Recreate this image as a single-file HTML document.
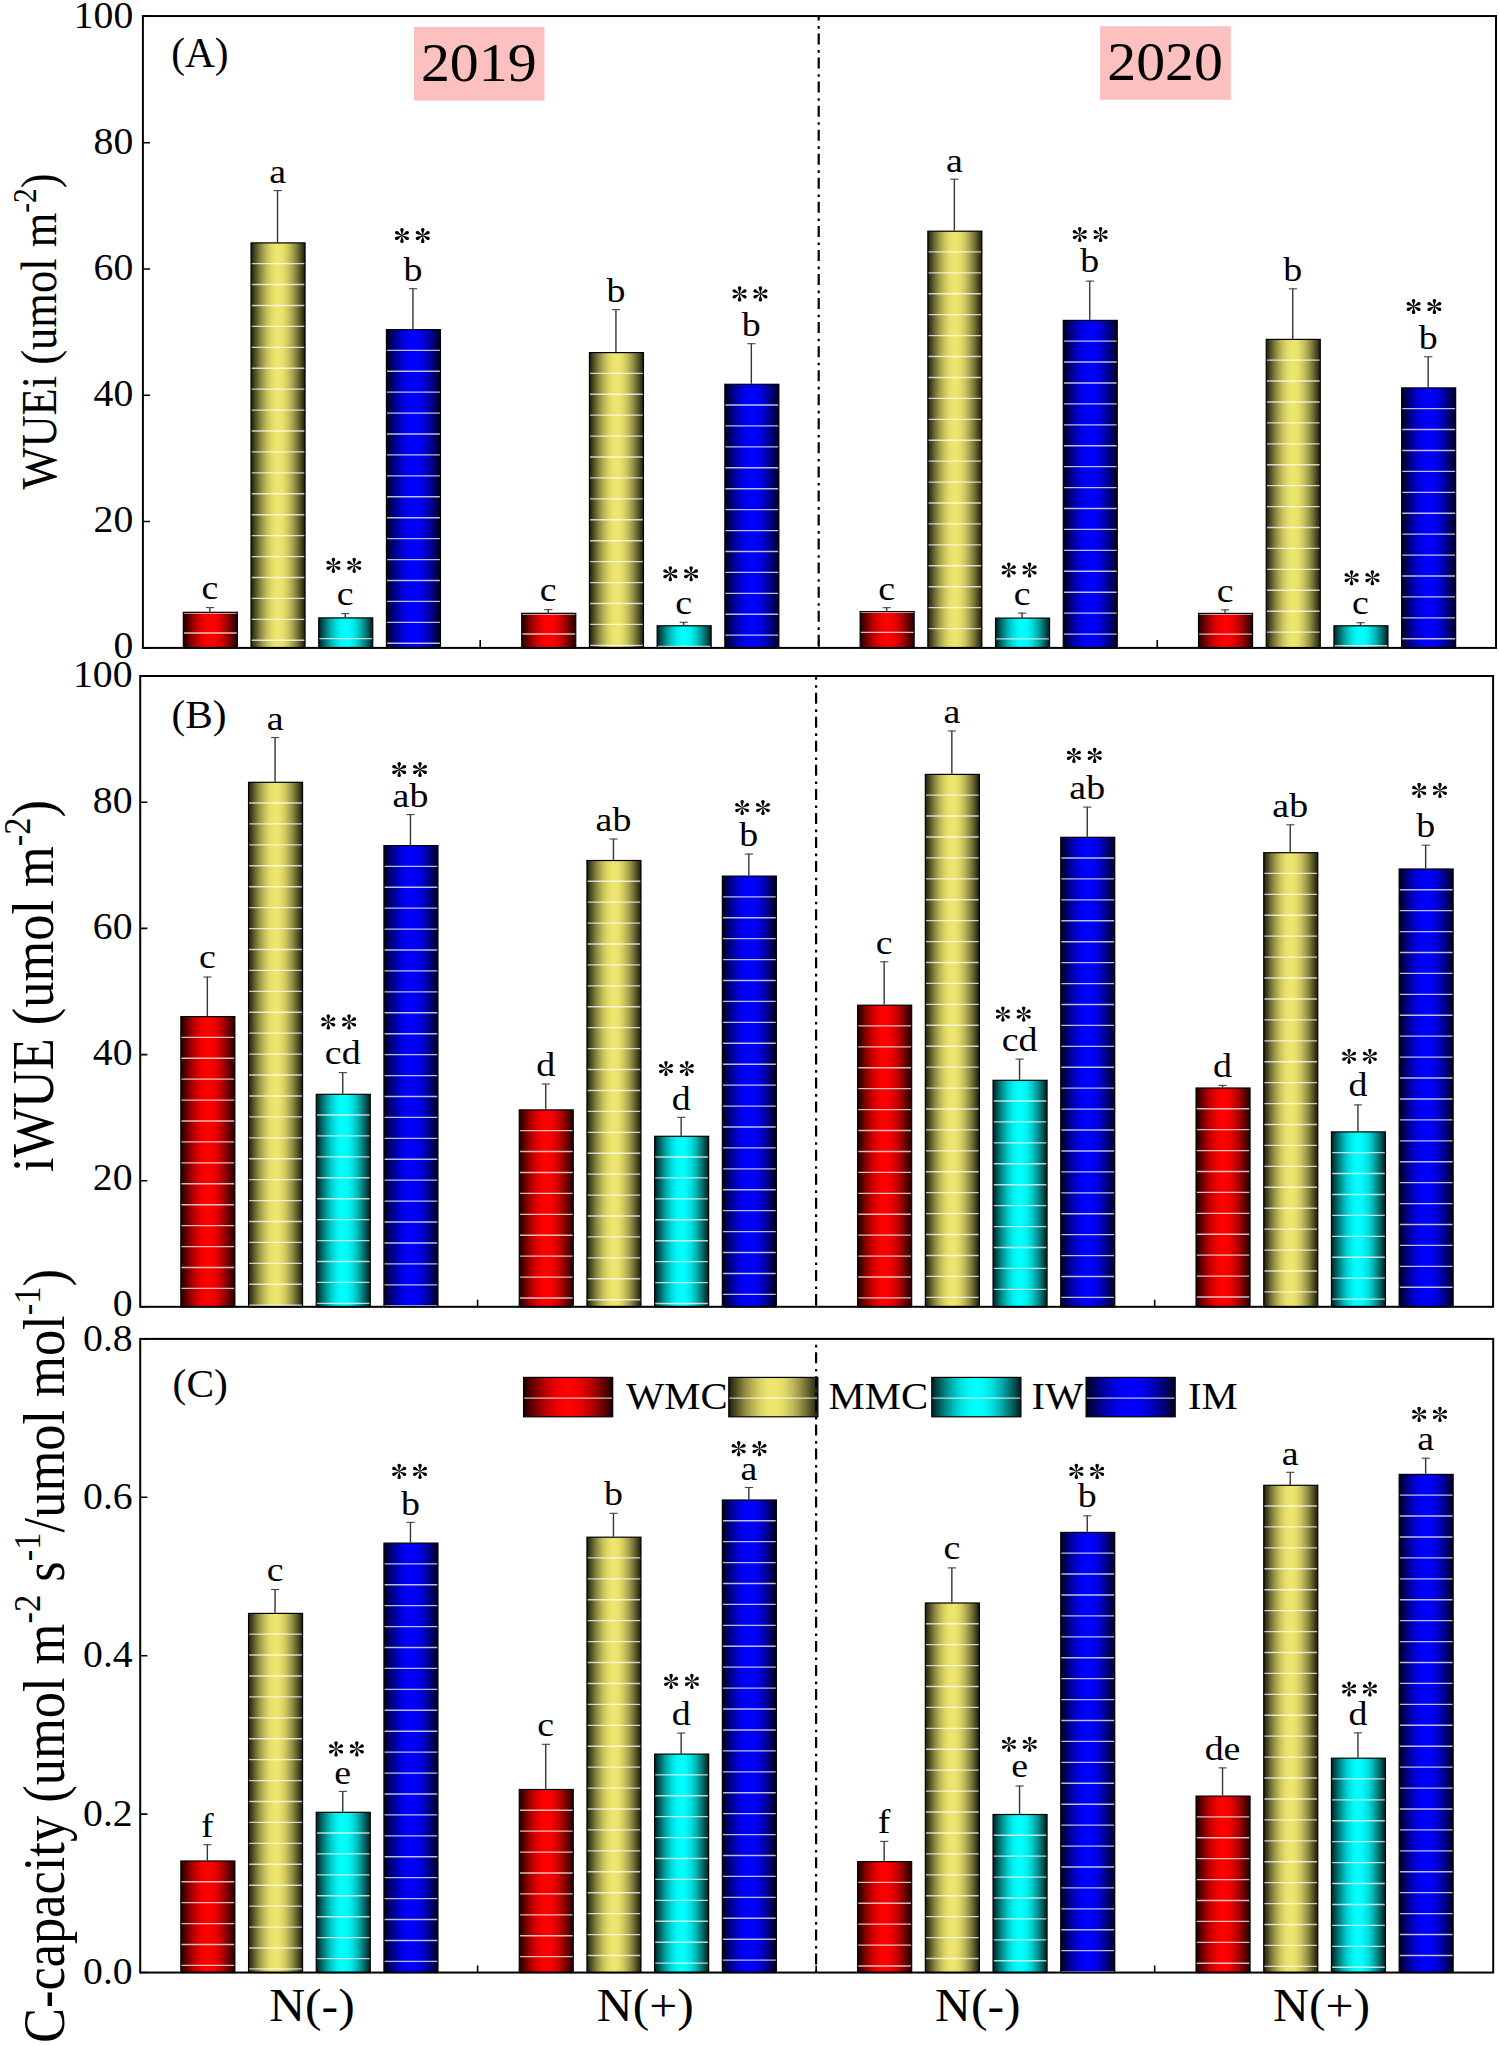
<!DOCTYPE html>
<html><head><meta charset="utf-8"><title>Figure</title>
<style>
html,body{margin:0;padding:0;background:#fff;}
body{width:1499px;height:2046px;overflow:hidden;font-family:"Liberation Serif",serif;}
svg{display:block;}
</style></head><body>
<svg width="1499" height="2046" viewBox="0 0 1499 2046" font-family="'Liberation Serif', serif" fill="#000">
<defs>
<linearGradient id="gr" x1="0" x2="1" y1="0" y2="0"><stop offset="0.0000" stop-color="#1f0000"/><stop offset="0.0625" stop-color="#4a0000"/><stop offset="0.1250" stop-color="#740000"/><stop offset="0.1875" stop-color="#9b0000"/><stop offset="0.2500" stop-color="#bd0000"/><stop offset="0.3125" stop-color="#d90000"/><stop offset="0.3750" stop-color="#ee0000"/><stop offset="0.4375" stop-color="#fb0000"/><stop offset="0.5000" stop-color="#ff0000"/><stop offset="0.5625" stop-color="#fb0000"/><stop offset="0.6250" stop-color="#ee0000"/><stop offset="0.6875" stop-color="#d90000"/><stop offset="0.7500" stop-color="#bd0000"/><stop offset="0.8125" stop-color="#9b0000"/><stop offset="0.8750" stop-color="#740000"/><stop offset="0.9375" stop-color="#4a0000"/><stop offset="1.0000" stop-color="#1f0000"/></linearGradient>
<linearGradient id="gy" x1="0" x2="1" y1="0" y2="0"><stop offset="0.0000" stop-color="#1d1c0d"/><stop offset="0.0625" stop-color="#454320"/><stop offset="0.1250" stop-color="#6d6a32"/><stop offset="0.1875" stop-color="#918d43"/><stop offset="0.2500" stop-color="#b1ab52"/><stop offset="0.3125" stop-color="#cbc55e"/><stop offset="0.3750" stop-color="#ded867"/><stop offset="0.4375" stop-color="#eae36c"/><stop offset="0.5000" stop-color="#eee76e"/><stop offset="0.5625" stop-color="#eae36c"/><stop offset="0.6250" stop-color="#ded867"/><stop offset="0.6875" stop-color="#cbc55e"/><stop offset="0.7500" stop-color="#b1ab52"/><stop offset="0.8125" stop-color="#918d43"/><stop offset="0.8750" stop-color="#6d6a32"/><stop offset="0.9375" stop-color="#454320"/><stop offset="1.0000" stop-color="#1d1c0d"/></linearGradient>
<linearGradient id="gc" x1="0" x2="1" y1="0" y2="0"><stop offset="0.0000" stop-color="#001f1f"/><stop offset="0.0625" stop-color="#004a4a"/><stop offset="0.1250" stop-color="#007474"/><stop offset="0.1875" stop-color="#009b9b"/><stop offset="0.2500" stop-color="#00bdbd"/><stop offset="0.3125" stop-color="#00d9d9"/><stop offset="0.3750" stop-color="#00eeee"/><stop offset="0.4375" stop-color="#00fbfb"/><stop offset="0.5000" stop-color="#00ffff"/><stop offset="0.5625" stop-color="#00fbfb"/><stop offset="0.6250" stop-color="#00eeee"/><stop offset="0.6875" stop-color="#00d9d9"/><stop offset="0.7500" stop-color="#00bdbd"/><stop offset="0.8125" stop-color="#009b9b"/><stop offset="0.8750" stop-color="#007474"/><stop offset="0.9375" stop-color="#004a4a"/><stop offset="1.0000" stop-color="#001f1f"/></linearGradient>
<linearGradient id="gb" x1="0" x2="1" y1="0" y2="0"><stop offset="0.0000" stop-color="#00001f"/><stop offset="0.0625" stop-color="#00004a"/><stop offset="0.1250" stop-color="#000074"/><stop offset="0.1875" stop-color="#00009b"/><stop offset="0.2500" stop-color="#0000bd"/><stop offset="0.3125" stop-color="#0000d9"/><stop offset="0.3750" stop-color="#0000ee"/><stop offset="0.4375" stop-color="#0000fb"/><stop offset="0.5000" stop-color="#0000ff"/><stop offset="0.5625" stop-color="#0000fb"/><stop offset="0.6250" stop-color="#0000ee"/><stop offset="0.6875" stop-color="#0000d9"/><stop offset="0.7500" stop-color="#0000bd"/><stop offset="0.8125" stop-color="#00009b"/><stop offset="0.8750" stop-color="#000074"/><stop offset="0.9375" stop-color="#00004a"/><stop offset="1.0000" stop-color="#00001f"/></linearGradient>
<g id="ast" transform="scale(1.04,1)"><path d="M-.18 0C-.42-1.9-.95-3.9-1.62-5.5C-1.9-6.6-1.05-7.55 0-7.55C1.05-7.55 1.9-6.6 1.62-5.5C.95-3.9.42-1.9.18 0Z" transform="rotate(0)"/><path d="M-.18 0C-.42-1.9-.95-3.9-1.62-5.5C-1.9-6.6-1.05-7.55 0-7.55C1.05-7.55 1.9-6.6 1.62-5.5C.95-3.9.42-1.9.18 0Z" transform="rotate(60)"/><path d="M-.18 0C-.42-1.9-.95-3.9-1.62-5.5C-1.9-6.6-1.05-7.55 0-7.55C1.05-7.55 1.9-6.6 1.62-5.5C.95-3.9.42-1.9.18 0Z" transform="rotate(120)"/><path d="M-.18 0C-.42-1.9-.95-3.9-1.62-5.5C-1.9-6.6-1.05-7.55 0-7.55C1.05-7.55 1.9-6.6 1.62-5.5C.95-3.9.42-1.9.18 0Z" transform="rotate(180)"/><path d="M-.18 0C-.42-1.9-.95-3.9-1.62-5.5C-1.9-6.6-1.05-7.55 0-7.55C1.05-7.55 1.9-6.6 1.62-5.5C.95-3.9.42-1.9.18 0Z" transform="rotate(240)"/><path d="M-.18 0C-.42-1.9-.95-3.9-1.62-5.5C-1.9-6.6-1.05-7.55 0-7.55C1.05-7.55 1.9-6.6 1.62-5.5C.95-3.9.42-1.9.18 0Z" transform="rotate(300)"/></g>
<g id="ast2"><use href="#ast" x="-10.4"/><use href="#ast" x="10.4"/></g>
</defs>
<path d="M209.85 611.70V607.30" stroke="#353535" stroke-width="1.4" fill="none"/>
<path d="M205.85 607.60H214.05" stroke="#444" stroke-width="1.1" fill="none"/>
<rect x="183.35" y="612.30" width="54.00" height="35.60" fill="url(#gr)"/><path d="M183.55 613.05H237.15M183.55 633.00H237.15" stroke="#fff" stroke-opacity="0.74" stroke-width="1.35" fill="none"/><rect x="183.35" y="612.30" width="54.00" height="35.60" fill="none" stroke="#000" stroke-width="1.2"/>
<text transform="translate(209.85,599.30) scale(1.115,1)" font-size="34" text-anchor="middle">c</text>
<path d="M277.55 242.30V190.30" stroke="#353535" stroke-width="1.4" fill="none"/>
<path d="M273.55 190.60H281.75" stroke="#444" stroke-width="1.1" fill="none"/>
<rect x="251.05" y="242.90" width="54.00" height="405.00" fill="url(#gy)"/><path d="M251.25 263.60H304.85M251.25 284.53H304.85M251.25 305.45H304.85M251.25 326.38H304.85M251.25 347.30H304.85M251.25 368.23H304.85M251.25 389.15H304.85M251.25 410.08H304.85M251.25 431.00H304.85M251.25 451.93H304.85M251.25 472.85H304.85M251.25 493.78H304.85M251.25 514.70H304.85M251.25 535.63H304.85M251.25 556.55H304.85M251.25 577.48H304.85M251.25 598.40H304.85M251.25 619.32H304.85M251.25 640.25H304.85" stroke="#fff" stroke-opacity="0.74" stroke-width="1.35" fill="none"/><rect x="251.05" y="242.90" width="54.00" height="405.00" fill="none" stroke="#000" stroke-width="1.2"/>
<text transform="translate(277.55,183.00) scale(1.115,1)" font-size="34" text-anchor="middle">a</text>
<path d="M345.25 617.30V613.30" stroke="#353535" stroke-width="1.4" fill="none"/>
<path d="M341.25 613.60H349.45" stroke="#444" stroke-width="1.1" fill="none"/>
<rect x="318.75" y="617.90" width="54.00" height="30.00" fill="url(#gc)"/><path d="M318.95 638.60H372.55" stroke="#fff" stroke-opacity="0.74" stroke-width="1.35" fill="none"/><rect x="318.75" y="617.90" width="54.00" height="30.00" fill="none" stroke="#000" stroke-width="1.2"/>
<text transform="translate(345.25,605.00) scale(1.115,1)" font-size="34" text-anchor="middle">c</text>
<use href="#ast2" x="343.80" y="565.35"/>
<path d="M412.95 329.00V288.40" stroke="#353535" stroke-width="1.4" fill="none"/>
<path d="M408.95 288.70H417.15" stroke="#444" stroke-width="1.1" fill="none"/>
<rect x="386.45" y="329.60" width="54.00" height="318.30" fill="url(#gb)"/><path d="M386.65 350.30H440.25M386.65 371.23H440.25M386.65 392.15H440.25M386.65 413.08H440.25M386.65 434.00H440.25M386.65 454.93H440.25M386.65 475.85H440.25M386.65 496.78H440.25M386.65 517.70H440.25M386.65 538.62H440.25M386.65 559.55H440.25M386.65 580.47H440.25M386.65 601.40H440.25M386.65 622.32H440.25M386.65 643.25H440.25" stroke="#fff" stroke-opacity="0.74" stroke-width="1.35" fill="none"/><rect x="386.45" y="329.60" width="54.00" height="318.30" fill="none" stroke="#000" stroke-width="1.2"/>
<text transform="translate(412.95,281.00) scale(1.115,1)" font-size="34" text-anchor="middle">b</text>
<use href="#ast2" x="412.35" y="235.50"/>
<path d="M548.25 612.70V609.30" stroke="#353535" stroke-width="1.4" fill="none"/>
<path d="M544.25 609.60H552.45" stroke="#444" stroke-width="1.1" fill="none"/>
<rect x="521.75" y="613.30" width="54.00" height="34.60" fill="url(#gr)"/><path d="M521.95 614.05H575.55M521.95 634.00H575.55" stroke="#fff" stroke-opacity="0.74" stroke-width="1.35" fill="none"/><rect x="521.75" y="613.30" width="54.00" height="34.60" fill="none" stroke="#000" stroke-width="1.2"/>
<text transform="translate(548.25,600.70) scale(1.115,1)" font-size="34" text-anchor="middle">c</text>
<path d="M615.95 352.00V309.30" stroke="#353535" stroke-width="1.4" fill="none"/>
<path d="M611.95 309.60H620.15" stroke="#444" stroke-width="1.1" fill="none"/>
<rect x="589.45" y="352.60" width="54.00" height="295.30" fill="url(#gy)"/><path d="M589.65 373.30H643.25M589.65 394.23H643.25M589.65 415.15H643.25M589.65 436.08H643.25M589.65 457.00H643.25M589.65 477.93H643.25M589.65 498.85H643.25M589.65 519.78H643.25M589.65 540.70H643.25M589.65 561.62H643.25M589.65 582.55H643.25M589.65 603.47H643.25M589.65 624.40H643.25M589.65 645.32H643.25" stroke="#fff" stroke-opacity="0.74" stroke-width="1.35" fill="none"/><rect x="589.45" y="352.60" width="54.00" height="295.30" fill="none" stroke="#000" stroke-width="1.2"/>
<text transform="translate(615.95,301.60) scale(1.115,1)" font-size="34" text-anchor="middle">b</text>
<path d="M683.65 625.20V622.00" stroke="#353535" stroke-width="1.4" fill="none"/>
<path d="M679.65 622.30H687.85" stroke="#444" stroke-width="1.1" fill="none"/>
<rect x="657.15" y="625.80" width="54.00" height="22.10" fill="url(#gc)"/><path d="M657.35 646.50H710.95" stroke="#fff" stroke-opacity="0.74" stroke-width="1.35" fill="none"/><rect x="657.15" y="625.80" width="54.00" height="22.10" fill="none" stroke="#000" stroke-width="1.2"/>
<text transform="translate(683.65,614.00) scale(1.115,1)" font-size="34" text-anchor="middle">c</text>
<use href="#ast2" x="680.70" y="573.75"/>
<path d="M751.35 383.70V343.40" stroke="#353535" stroke-width="1.4" fill="none"/>
<path d="M747.35 343.70H755.55" stroke="#444" stroke-width="1.1" fill="none"/>
<rect x="724.85" y="384.30" width="54.00" height="263.60" fill="url(#gb)"/><path d="M725.05 405.00H778.65M725.05 425.93H778.65M725.05 446.85H778.65M725.05 467.78H778.65M725.05 488.70H778.65M725.05 509.63H778.65M725.05 530.55H778.65M725.05 551.48H778.65M725.05 572.40H778.65M725.05 593.32H778.65M725.05 614.25H778.65M725.05 635.17H778.65" stroke="#fff" stroke-opacity="0.74" stroke-width="1.35" fill="none"/><rect x="724.85" y="384.30" width="54.00" height="263.60" fill="none" stroke="#000" stroke-width="1.2"/>
<text transform="translate(751.35,335.70) scale(1.115,1)" font-size="34" text-anchor="middle">b</text>
<use href="#ast2" x="750.00" y="293.90"/>
<path d="M886.65 611.00V607.40" stroke="#353535" stroke-width="1.4" fill="none"/>
<path d="M882.65 607.70H890.85" stroke="#444" stroke-width="1.1" fill="none"/>
<rect x="860.15" y="611.60" width="54.00" height="36.30" fill="url(#gr)"/><path d="M860.35 612.35H913.95M860.35 632.30H913.95" stroke="#fff" stroke-opacity="0.74" stroke-width="1.35" fill="none"/><rect x="860.15" y="611.60" width="54.00" height="36.30" fill="none" stroke="#000" stroke-width="1.2"/>
<text transform="translate(886.65,600.00) scale(1.115,1)" font-size="34" text-anchor="middle">c</text>
<path d="M954.35 230.60V178.90" stroke="#353535" stroke-width="1.4" fill="none"/>
<path d="M950.35 179.20H958.55" stroke="#444" stroke-width="1.1" fill="none"/>
<rect x="927.85" y="231.20" width="54.00" height="416.70" fill="url(#gy)"/><path d="M928.05 251.90H981.65M928.05 272.82H981.65M928.05 293.75H981.65M928.05 314.68H981.65M928.05 335.60H981.65M928.05 356.53H981.65M928.05 377.45H981.65M928.05 398.38H981.65M928.05 419.30H981.65M928.05 440.23H981.65M928.05 461.15H981.65M928.05 482.08H981.65M928.05 503.00H981.65M928.05 523.93H981.65M928.05 544.85H981.65M928.05 565.77H981.65M928.05 586.70H981.65M928.05 607.62H981.65M928.05 628.55H981.65" stroke="#fff" stroke-opacity="0.74" stroke-width="1.35" fill="none"/><rect x="927.85" y="231.20" width="54.00" height="416.70" fill="none" stroke="#000" stroke-width="1.2"/>
<text transform="translate(954.35,171.90) scale(1.115,1)" font-size="34" text-anchor="middle">a</text>
<path d="M1022.05 617.50V612.80" stroke="#353535" stroke-width="1.4" fill="none"/>
<path d="M1018.05 613.10H1026.25" stroke="#444" stroke-width="1.1" fill="none"/>
<rect x="995.55" y="618.10" width="54.00" height="29.80" fill="url(#gc)"/><path d="M995.75 638.80H1049.35" stroke="#fff" stroke-opacity="0.74" stroke-width="1.35" fill="none"/><rect x="995.55" y="618.10" width="54.00" height="29.80" fill="none" stroke="#000" stroke-width="1.2"/>
<text transform="translate(1022.05,605.00) scale(1.115,1)" font-size="34" text-anchor="middle">c</text>
<use href="#ast2" x="1019.20" y="569.95"/>
<path d="M1089.75 319.80V280.80" stroke="#353535" stroke-width="1.4" fill="none"/>
<path d="M1085.75 281.10H1093.95" stroke="#444" stroke-width="1.1" fill="none"/>
<rect x="1063.25" y="320.40" width="54.00" height="327.50" fill="url(#gb)"/><path d="M1063.45 341.10H1117.05M1063.45 362.03H1117.05M1063.45 382.95H1117.05M1063.45 403.88H1117.05M1063.45 424.80H1117.05M1063.45 445.73H1117.05M1063.45 466.65H1117.05M1063.45 487.58H1117.05M1063.45 508.50H1117.05M1063.45 529.43H1117.05M1063.45 550.35H1117.05M1063.45 571.27H1117.05M1063.45 592.20H1117.05M1063.45 613.12H1117.05M1063.45 634.05H1117.05" stroke="#fff" stroke-opacity="0.74" stroke-width="1.35" fill="none"/><rect x="1063.25" y="320.40" width="54.00" height="327.50" fill="none" stroke="#000" stroke-width="1.2"/>
<text transform="translate(1089.75,272.35) scale(1.115,1)" font-size="34" text-anchor="middle">b</text>
<use href="#ast2" x="1090.15" y="234.55"/>
<path d="M1225.05 612.80V609.60" stroke="#353535" stroke-width="1.4" fill="none"/>
<path d="M1221.05 609.90H1229.25" stroke="#444" stroke-width="1.1" fill="none"/>
<rect x="1198.55" y="613.40" width="54.00" height="34.50" fill="url(#gr)"/><path d="M1198.75 614.15H1252.35M1198.75 634.10H1252.35" stroke="#fff" stroke-opacity="0.74" stroke-width="1.35" fill="none"/><rect x="1198.55" y="613.40" width="54.00" height="34.50" fill="none" stroke="#000" stroke-width="1.2"/>
<text transform="translate(1225.05,601.70) scale(1.115,1)" font-size="34" text-anchor="middle">c</text>
<path d="M1292.75 338.80V288.50" stroke="#353535" stroke-width="1.4" fill="none"/>
<path d="M1288.75 288.80H1296.95" stroke="#444" stroke-width="1.1" fill="none"/>
<rect x="1266.25" y="339.40" width="54.00" height="308.50" fill="url(#gy)"/><path d="M1266.45 360.10H1320.05M1266.45 381.03H1320.05M1266.45 401.95H1320.05M1266.45 422.88H1320.05M1266.45 443.80H1320.05M1266.45 464.73H1320.05M1266.45 485.65H1320.05M1266.45 506.58H1320.05M1266.45 527.50H1320.05M1266.45 548.43H1320.05M1266.45 569.35H1320.05M1266.45 590.27H1320.05M1266.45 611.20H1320.05M1266.45 632.12H1320.05" stroke="#fff" stroke-opacity="0.74" stroke-width="1.35" fill="none"/><rect x="1266.25" y="339.40" width="54.00" height="308.50" fill="none" stroke="#000" stroke-width="1.2"/>
<text transform="translate(1292.75,280.50) scale(1.115,1)" font-size="34" text-anchor="middle">b</text>
<path d="M1360.45 625.20V622.40" stroke="#353535" stroke-width="1.4" fill="none"/>
<path d="M1356.45 622.70H1364.65" stroke="#444" stroke-width="1.1" fill="none"/>
<rect x="1333.95" y="625.80" width="54.00" height="22.10" fill="url(#gc)"/><path d="M1334.15 645.75H1387.75" stroke="#fff" stroke-opacity="0.74" stroke-width="1.35" fill="none"/><rect x="1333.95" y="625.80" width="54.00" height="22.10" fill="none" stroke="#000" stroke-width="1.2"/>
<text transform="translate(1360.45,614.10) scale(1.115,1)" font-size="34" text-anchor="middle">c</text>
<use href="#ast2" x="1362.00" y="577.70"/>
<path d="M1428.15 387.30V356.50" stroke="#353535" stroke-width="1.4" fill="none"/>
<path d="M1424.15 356.80H1432.35" stroke="#444" stroke-width="1.1" fill="none"/>
<rect x="1401.65" y="387.90" width="54.00" height="260.00" fill="url(#gb)"/><path d="M1401.85 408.60H1455.45M1401.85 429.53H1455.45M1401.85 450.45H1455.45M1401.85 471.38H1455.45M1401.85 492.30H1455.45M1401.85 513.23H1455.45M1401.85 534.15H1455.45M1401.85 555.07H1455.45M1401.85 576.00H1455.45M1401.85 596.92H1455.45M1401.85 617.85H1455.45M1401.85 638.77H1455.45" stroke="#fff" stroke-opacity="0.74" stroke-width="1.35" fill="none"/><rect x="1401.65" y="387.90" width="54.00" height="260.00" fill="none" stroke="#000" stroke-width="1.2"/>
<text transform="translate(1428.15,348.60) scale(1.115,1)" font-size="34" text-anchor="middle">b</text>
<use href="#ast2" x="1424.00" y="306.50"/>
<rect x="142.90" y="16.05" width="1353.10" height="631.85" fill="none" stroke="#000" stroke-width="2"/>
<path d="M142.90 16.05h7.2M142.90 142.74h7.2M142.90 269.00h7.2M142.90 395.28h7.2M142.90 521.55h7.2M142.90 647.85h7.2M480.20 647.90v-8.0M818.74 647.90v-8.0M1157.28 647.90v-8.0" stroke="#000" stroke-width="1.6" fill="none"/>
<text transform="translate(133.30,28.00) scale(1.037,1)" font-size="38.3" text-anchor="end">100</text>
<text transform="translate(133.30,154.02) scale(1.037,1)" font-size="38.3" text-anchor="end">80</text>
<text transform="translate(133.30,280.04) scale(1.037,1)" font-size="38.3" text-anchor="end">60</text>
<text transform="translate(133.30,406.06) scale(1.037,1)" font-size="38.3" text-anchor="end">40</text>
<text transform="translate(133.30,532.08) scale(1.037,1)" font-size="38.3" text-anchor="end">20</text>
<text transform="translate(133.30,658.10) scale(1.037,1)" font-size="38.3" text-anchor="end">0</text>
<text transform="translate(171.30,66.70) scale(0.972,1)" font-size="42.5" text-anchor="start">(A)</text>
<path d="M207.35 1016.00V976.70" stroke="#353535" stroke-width="1.4" fill="none"/>
<path d="M203.35 977.00H211.55" stroke="#444" stroke-width="1.1" fill="none"/>
<rect x="180.85" y="1016.60" width="54.00" height="290.20" fill="url(#gr)"/><path d="M181.05 1037.30H234.65M181.05 1058.22H234.65M181.05 1079.15H234.65M181.05 1100.07H234.65M181.05 1121.00H234.65M181.05 1141.92H234.65M181.05 1162.85H234.65M181.05 1183.77H234.65M181.05 1204.70H234.65M181.05 1225.62H234.65M181.05 1246.55H234.65M181.05 1267.47H234.65M181.05 1288.40H234.65" stroke="#fff" stroke-opacity="0.74" stroke-width="1.35" fill="none"/><rect x="180.85" y="1016.60" width="54.00" height="290.20" fill="none" stroke="#000" stroke-width="1.2"/>
<text transform="translate(207.35,968.00) scale(1.115,1)" font-size="34" text-anchor="middle">c</text>
<path d="M275.05 781.70V737.30" stroke="#353535" stroke-width="1.4" fill="none"/>
<path d="M271.05 737.60H279.25" stroke="#444" stroke-width="1.1" fill="none"/>
<rect x="248.55" y="782.30" width="54.00" height="524.50" fill="url(#gy)"/><path d="M248.75 803.00H302.35M248.75 823.92H302.35M248.75 844.85H302.35M248.75 865.77H302.35M248.75 886.70H302.35M248.75 907.62H302.35M248.75 928.55H302.35M248.75 949.47H302.35M248.75 970.40H302.35M248.75 991.32H302.35M248.75 1012.25H302.35M248.75 1033.17H302.35M248.75 1054.10H302.35M248.75 1075.02H302.35M248.75 1095.95H302.35M248.75 1116.87H302.35M248.75 1137.80H302.35M248.75 1158.72H302.35M248.75 1179.65H302.35M248.75 1200.57H302.35M248.75 1221.50H302.35M248.75 1242.42H302.35M248.75 1263.35H302.35M248.75 1284.27H302.35M248.75 1305.20H302.35" stroke="#fff" stroke-opacity="0.74" stroke-width="1.35" fill="none"/><rect x="248.55" y="782.30" width="54.00" height="524.50" fill="none" stroke="#000" stroke-width="1.2"/>
<text transform="translate(275.05,729.70) scale(1.115,1)" font-size="34" text-anchor="middle">a</text>
<path d="M342.75 1093.70V1072.30" stroke="#353535" stroke-width="1.4" fill="none"/>
<path d="M338.75 1072.60H346.95" stroke="#444" stroke-width="1.1" fill="none"/>
<rect x="316.25" y="1094.30" width="54.00" height="212.50" fill="url(#gc)"/><path d="M316.45 1115.00H370.05M316.45 1135.92H370.05M316.45 1156.85H370.05M316.45 1177.77H370.05M316.45 1198.70H370.05M316.45 1219.62H370.05M316.45 1240.55H370.05M316.45 1261.47H370.05M316.45 1282.40H370.05M316.45 1303.32H370.05" stroke="#fff" stroke-opacity="0.74" stroke-width="1.35" fill="none"/><rect x="316.25" y="1094.30" width="54.00" height="212.50" fill="none" stroke="#000" stroke-width="1.2"/>
<text transform="translate(342.75,1064.30) scale(1.115,1)" font-size="34" text-anchor="middle">cd</text>
<use href="#ast2" x="338.70" y="1021.90"/>
<path d="M410.45 845.00V814.30" stroke="#353535" stroke-width="1.4" fill="none"/>
<path d="M406.45 814.60H414.65" stroke="#444" stroke-width="1.1" fill="none"/>
<rect x="383.95" y="845.60" width="54.00" height="461.20" fill="url(#gb)"/><path d="M384.15 866.30H437.75M384.15 887.22H437.75M384.15 908.15H437.75M384.15 929.07H437.75M384.15 950.00H437.75M384.15 970.92H437.75M384.15 991.85H437.75M384.15 1012.77H437.75M384.15 1033.70H437.75M384.15 1054.62H437.75M384.15 1075.55H437.75M384.15 1096.47H437.75M384.15 1117.40H437.75M384.15 1138.32H437.75M384.15 1159.25H437.75M384.15 1180.17H437.75M384.15 1201.10H437.75M384.15 1222.02H437.75M384.15 1242.95H437.75M384.15 1263.87H437.75M384.15 1284.80H437.75M384.15 1305.72H437.75" stroke="#fff" stroke-opacity="0.74" stroke-width="1.35" fill="none"/><rect x="383.95" y="845.60" width="54.00" height="461.20" fill="none" stroke="#000" stroke-width="1.2"/>
<text transform="translate(410.45,807.30) scale(1.115,1)" font-size="34" text-anchor="middle">ab</text>
<use href="#ast2" x="409.60" y="769.50"/>
<path d="M545.75 1109.30V1083.70" stroke="#353535" stroke-width="1.4" fill="none"/>
<path d="M541.75 1084.00H549.95" stroke="#444" stroke-width="1.1" fill="none"/>
<rect x="519.25" y="1109.90" width="54.00" height="196.90" fill="url(#gr)"/><path d="M519.45 1130.60H573.05M519.45 1151.52H573.05M519.45 1172.45H573.05M519.45 1193.37H573.05M519.45 1214.30H573.05M519.45 1235.22H573.05M519.45 1256.15H573.05M519.45 1277.07H573.05M519.45 1298.00H573.05" stroke="#fff" stroke-opacity="0.74" stroke-width="1.35" fill="none"/><rect x="519.25" y="1109.90" width="54.00" height="196.90" fill="none" stroke="#000" stroke-width="1.2"/>
<text transform="translate(545.75,1075.90) scale(1.115,1)" font-size="34" text-anchor="middle">d</text>
<path d="M613.45 859.90V838.70" stroke="#353535" stroke-width="1.4" fill="none"/>
<path d="M609.45 839.00H617.65" stroke="#444" stroke-width="1.1" fill="none"/>
<rect x="586.95" y="860.50" width="54.00" height="446.30" fill="url(#gy)"/><path d="M587.15 881.20H640.75M587.15 902.12H640.75M587.15 923.05H640.75M587.15 943.97H640.75M587.15 964.90H640.75M587.15 985.82H640.75M587.15 1006.75H640.75M587.15 1027.67H640.75M587.15 1048.60H640.75M587.15 1069.52H640.75M587.15 1090.45H640.75M587.15 1111.37H640.75M587.15 1132.30H640.75M587.15 1153.22H640.75M587.15 1174.15H640.75M587.15 1195.07H640.75M587.15 1216.00H640.75M587.15 1236.92H640.75M587.15 1257.85H640.75M587.15 1278.77H640.75M587.15 1299.70H640.75" stroke="#fff" stroke-opacity="0.74" stroke-width="1.35" fill="none"/><rect x="586.95" y="860.50" width="54.00" height="446.30" fill="none" stroke="#000" stroke-width="1.2"/>
<text transform="translate(613.45,831.10) scale(1.115,1)" font-size="34" text-anchor="middle">ab</text>
<path d="M681.15 1135.70V1117.00" stroke="#353535" stroke-width="1.4" fill="none"/>
<path d="M677.15 1117.30H685.35" stroke="#444" stroke-width="1.1" fill="none"/>
<rect x="654.65" y="1136.30" width="54.00" height="170.50" fill="url(#gc)"/><path d="M654.85 1157.00H708.45M654.85 1177.92H708.45M654.85 1198.85H708.45M654.85 1219.77H708.45M654.85 1240.70H708.45M654.85 1261.62H708.45M654.85 1282.55H708.45M654.85 1303.47H708.45" stroke="#fff" stroke-opacity="0.74" stroke-width="1.35" fill="none"/><rect x="654.65" y="1136.30" width="54.00" height="170.50" fill="none" stroke="#000" stroke-width="1.2"/>
<text transform="translate(681.15,1109.60) scale(1.115,1)" font-size="34" text-anchor="middle">d</text>
<use href="#ast2" x="676.40" y="1068.60"/>
<path d="M748.85 875.50V853.70" stroke="#353535" stroke-width="1.4" fill="none"/>
<path d="M744.85 854.00H753.05" stroke="#444" stroke-width="1.1" fill="none"/>
<rect x="722.35" y="876.10" width="54.00" height="430.70" fill="url(#gb)"/><path d="M722.55 896.80H776.15M722.55 917.72H776.15M722.55 938.65H776.15M722.55 959.57H776.15M722.55 980.50H776.15M722.55 1001.42H776.15M722.55 1022.35H776.15M722.55 1043.27H776.15M722.55 1064.20H776.15M722.55 1085.12H776.15M722.55 1106.05H776.15M722.55 1126.97H776.15M722.55 1147.90H776.15M722.55 1168.82H776.15M722.55 1189.75H776.15M722.55 1210.67H776.15M722.55 1231.60H776.15M722.55 1252.52H776.15M722.55 1273.45H776.15M722.55 1294.37H776.15" stroke="#fff" stroke-opacity="0.74" stroke-width="1.35" fill="none"/><rect x="722.35" y="876.10" width="54.00" height="430.70" fill="none" stroke="#000" stroke-width="1.2"/>
<text transform="translate(748.85,846.40) scale(1.115,1)" font-size="34" text-anchor="middle">b</text>
<use href="#ast2" x="752.55" y="807.55"/>
<path d="M884.15 1004.60V961.50" stroke="#353535" stroke-width="1.4" fill="none"/>
<path d="M880.15 961.80H888.35" stroke="#444" stroke-width="1.1" fill="none"/>
<rect x="857.65" y="1005.20" width="54.00" height="301.60" fill="url(#gr)"/><path d="M857.85 1025.90H911.45M857.85 1046.83H911.45M857.85 1067.75H911.45M857.85 1088.67H911.45M857.85 1109.60H911.45M857.85 1130.52H911.45M857.85 1151.45H911.45M857.85 1172.37H911.45M857.85 1193.30H911.45M857.85 1214.22H911.45M857.85 1235.15H911.45M857.85 1256.07H911.45M857.85 1277.00H911.45M857.85 1297.92H911.45" stroke="#fff" stroke-opacity="0.74" stroke-width="1.35" fill="none"/><rect x="857.65" y="1005.20" width="54.00" height="301.60" fill="none" stroke="#000" stroke-width="1.2"/>
<text transform="translate(884.15,953.80) scale(1.115,1)" font-size="34" text-anchor="middle">c</text>
<path d="M951.85 773.80V730.70" stroke="#353535" stroke-width="1.4" fill="none"/>
<path d="M947.85 731.00H956.05" stroke="#444" stroke-width="1.1" fill="none"/>
<rect x="925.35" y="774.40" width="54.00" height="532.40" fill="url(#gy)"/><path d="M925.55 795.10H979.15M925.55 816.02H979.15M925.55 836.95H979.15M925.55 857.87H979.15M925.55 878.80H979.15M925.55 899.72H979.15M925.55 920.65H979.15M925.55 941.57H979.15M925.55 962.50H979.15M925.55 983.42H979.15M925.55 1004.35H979.15M925.55 1025.27H979.15M925.55 1046.20H979.15M925.55 1067.12H979.15M925.55 1088.05H979.15M925.55 1108.97H979.15M925.55 1129.90H979.15M925.55 1150.82H979.15M925.55 1171.75H979.15M925.55 1192.67H979.15M925.55 1213.60H979.15M925.55 1234.52H979.15M925.55 1255.45H979.15M925.55 1276.37H979.15M925.55 1297.30H979.15" stroke="#fff" stroke-opacity="0.74" stroke-width="1.35" fill="none"/><rect x="925.35" y="774.40" width="54.00" height="532.40" fill="none" stroke="#000" stroke-width="1.2"/>
<text transform="translate(951.85,723.30) scale(1.115,1)" font-size="34" text-anchor="middle">a</text>
<path d="M1019.55 1079.70V1058.80" stroke="#353535" stroke-width="1.4" fill="none"/>
<path d="M1015.55 1059.10H1023.75" stroke="#444" stroke-width="1.1" fill="none"/>
<rect x="993.05" y="1080.30" width="54.00" height="226.50" fill="url(#gc)"/><path d="M993.25 1101.00H1046.85M993.25 1121.92H1046.85M993.25 1142.85H1046.85M993.25 1163.77H1046.85M993.25 1184.70H1046.85M993.25 1205.62H1046.85M993.25 1226.55H1046.85M993.25 1247.47H1046.85M993.25 1268.40H1046.85M993.25 1289.32H1046.85" stroke="#fff" stroke-opacity="0.74" stroke-width="1.35" fill="none"/><rect x="993.05" y="1080.30" width="54.00" height="226.50" fill="none" stroke="#000" stroke-width="1.2"/>
<text transform="translate(1019.55,1051.00) scale(1.115,1)" font-size="34" text-anchor="middle">cd</text>
<use href="#ast2" x="1013.30" y="1014.10"/>
<path d="M1087.25 836.70V806.80" stroke="#353535" stroke-width="1.4" fill="none"/>
<path d="M1083.25 807.10H1091.45" stroke="#444" stroke-width="1.1" fill="none"/>
<rect x="1060.75" y="837.30" width="54.00" height="469.50" fill="url(#gb)"/><path d="M1060.95 858.00H1114.55M1060.95 878.92H1114.55M1060.95 899.85H1114.55M1060.95 920.77H1114.55M1060.95 941.70H1114.55M1060.95 962.62H1114.55M1060.95 983.55H1114.55M1060.95 1004.47H1114.55M1060.95 1025.40H1114.55M1060.95 1046.32H1114.55M1060.95 1067.25H1114.55M1060.95 1088.17H1114.55M1060.95 1109.10H1114.55M1060.95 1130.02H1114.55M1060.95 1150.95H1114.55M1060.95 1171.87H1114.55M1060.95 1192.80H1114.55M1060.95 1213.72H1114.55M1060.95 1234.65H1114.55M1060.95 1255.57H1114.55M1060.95 1276.50H1114.55M1060.95 1297.42H1114.55" stroke="#fff" stroke-opacity="0.74" stroke-width="1.35" fill="none"/><rect x="1060.75" y="837.30" width="54.00" height="469.50" fill="none" stroke="#000" stroke-width="1.2"/>
<text transform="translate(1087.25,799.15) scale(1.115,1)" font-size="34" text-anchor="middle">ab</text>
<use href="#ast2" x="1084.30" y="755.40"/>
<path d="M1222.55 1087.40V1085.10" stroke="#353535" stroke-width="1.4" fill="none"/>
<path d="M1218.55 1085.40H1226.75" stroke="#444" stroke-width="1.1" fill="none"/>
<rect x="1196.05" y="1088.00" width="54.00" height="218.80" fill="url(#gr)"/><path d="M1196.25 1108.70H1249.85M1196.25 1129.62H1249.85M1196.25 1150.55H1249.85M1196.25 1171.47H1249.85M1196.25 1192.40H1249.85M1196.25 1213.32H1249.85M1196.25 1234.25H1249.85M1196.25 1255.17H1249.85M1196.25 1276.10H1249.85M1196.25 1297.02H1249.85" stroke="#fff" stroke-opacity="0.74" stroke-width="1.35" fill="none"/><rect x="1196.05" y="1088.00" width="54.00" height="218.80" fill="none" stroke="#000" stroke-width="1.2"/>
<text transform="translate(1222.55,1077.40) scale(1.115,1)" font-size="34" text-anchor="middle">d</text>
<path d="M1290.25 852.10V824.50" stroke="#353535" stroke-width="1.4" fill="none"/>
<path d="M1286.25 824.80H1294.45" stroke="#444" stroke-width="1.1" fill="none"/>
<rect x="1263.75" y="852.70" width="54.00" height="454.10" fill="url(#gy)"/><path d="M1263.95 873.40H1317.55M1263.95 894.32H1317.55M1263.95 915.25H1317.55M1263.95 936.17H1317.55M1263.95 957.10H1317.55M1263.95 978.02H1317.55M1263.95 998.95H1317.55M1263.95 1019.87H1317.55M1263.95 1040.80H1317.55M1263.95 1061.72H1317.55M1263.95 1082.65H1317.55M1263.95 1103.57H1317.55M1263.95 1124.50H1317.55M1263.95 1145.42H1317.55M1263.95 1166.35H1317.55M1263.95 1187.27H1317.55M1263.95 1208.20H1317.55M1263.95 1229.12H1317.55M1263.95 1250.05H1317.55M1263.95 1270.97H1317.55M1263.95 1291.90H1317.55" stroke="#fff" stroke-opacity="0.74" stroke-width="1.35" fill="none"/><rect x="1263.75" y="852.70" width="54.00" height="454.10" fill="none" stroke="#000" stroke-width="1.2"/>
<text transform="translate(1290.25,816.80) scale(1.115,1)" font-size="34" text-anchor="middle">ab</text>
<path d="M1357.95 1131.30V1104.60" stroke="#353535" stroke-width="1.4" fill="none"/>
<path d="M1353.95 1104.90H1362.15" stroke="#444" stroke-width="1.1" fill="none"/>
<rect x="1331.45" y="1131.90" width="54.00" height="174.90" fill="url(#gc)"/><path d="M1331.65 1152.60H1385.25M1331.65 1173.52H1385.25M1331.65 1194.45H1385.25M1331.65 1215.37H1385.25M1331.65 1236.30H1385.25M1331.65 1257.22H1385.25M1331.65 1278.15H1385.25M1331.65 1299.07H1385.25" stroke="#fff" stroke-opacity="0.74" stroke-width="1.35" fill="none"/><rect x="1331.45" y="1131.90" width="54.00" height="174.90" fill="none" stroke="#000" stroke-width="1.2"/>
<text transform="translate(1357.95,1096.40) scale(1.115,1)" font-size="34" text-anchor="middle">d</text>
<use href="#ast2" x="1359.50" y="1056.35"/>
<path d="M1425.65 868.40V844.90" stroke="#353535" stroke-width="1.4" fill="none"/>
<path d="M1421.65 845.20H1429.85" stroke="#444" stroke-width="1.1" fill="none"/>
<rect x="1399.15" y="869.00" width="54.00" height="437.80" fill="url(#gb)"/><path d="M1399.35 889.70H1452.95M1399.35 910.62H1452.95M1399.35 931.55H1452.95M1399.35 952.47H1452.95M1399.35 973.40H1452.95M1399.35 994.32H1452.95M1399.35 1015.25H1452.95M1399.35 1036.17H1452.95M1399.35 1057.10H1452.95M1399.35 1078.02H1452.95M1399.35 1098.95H1452.95M1399.35 1119.87H1452.95M1399.35 1140.80H1452.95M1399.35 1161.72H1452.95M1399.35 1182.65H1452.95M1399.35 1203.57H1452.95M1399.35 1224.50H1452.95M1399.35 1245.42H1452.95M1399.35 1266.35H1452.95M1399.35 1287.27H1452.95" stroke="#fff" stroke-opacity="0.74" stroke-width="1.35" fill="none"/><rect x="1399.15" y="869.00" width="54.00" height="437.80" fill="none" stroke="#000" stroke-width="1.2"/>
<text transform="translate(1425.65,836.90) scale(1.115,1)" font-size="34" text-anchor="middle">b</text>
<use href="#ast2" x="1429.55" y="790.40"/>
<rect x="140.20" y="676.00" width="1352.90" height="630.80" fill="none" stroke="#000" stroke-width="2"/>
<path d="M140.20 676.00h7.2M140.20 802.20h7.2M140.20 928.40h7.2M140.20 1054.60h7.2M140.20 1180.70h7.2M140.20 1306.80h7.2M477.60 1306.80v-7.0M816.14 1306.80v-7.0M1154.68 1306.80v-7.0" stroke="#000" stroke-width="1.6" fill="none"/>
<text transform="translate(132.50,687.00) scale(1.037,1)" font-size="38.3" text-anchor="end">100</text>
<text transform="translate(132.50,812.84) scale(1.037,1)" font-size="38.3" text-anchor="end">80</text>
<text transform="translate(132.50,938.68) scale(1.037,1)" font-size="38.3" text-anchor="end">60</text>
<text transform="translate(132.50,1064.52) scale(1.037,1)" font-size="38.3" text-anchor="end">40</text>
<text transform="translate(132.50,1190.36) scale(1.037,1)" font-size="38.3" text-anchor="end">20</text>
<text transform="translate(132.50,1316.20) scale(1.037,1)" font-size="38.3" text-anchor="end">0</text>
<text transform="translate(171.40,728.00) scale(1.01,1)" font-size="41" text-anchor="start">(B)</text>
<path d="M207.35 1860.40V1844.40" stroke="#353535" stroke-width="1.4" fill="none"/>
<path d="M203.35 1844.70H211.55" stroke="#444" stroke-width="1.1" fill="none"/>
<rect x="180.85" y="1861.00" width="54.00" height="111.55" fill="url(#gr)"/><path d="M181.05 1881.70H234.65M181.05 1902.62H234.65M181.05 1923.55H234.65M181.05 1944.47H234.65M181.05 1965.40H234.65" stroke="#fff" stroke-opacity="0.74" stroke-width="1.35" fill="none"/><rect x="180.85" y="1861.00" width="54.00" height="111.55" fill="none" stroke="#000" stroke-width="1.2"/>
<text transform="translate(207.35,1836.70) scale(1.115,1)" font-size="34" text-anchor="middle">f</text>
<path d="M275.05 1612.80V1589.20" stroke="#353535" stroke-width="1.4" fill="none"/>
<path d="M271.05 1589.50H279.25" stroke="#444" stroke-width="1.1" fill="none"/>
<rect x="248.55" y="1613.40" width="54.00" height="359.15" fill="url(#gy)"/><path d="M248.75 1634.10H302.35M248.75 1655.02H302.35M248.75 1675.95H302.35M248.75 1696.87H302.35M248.75 1717.80H302.35M248.75 1738.72H302.35M248.75 1759.65H302.35M248.75 1780.57H302.35M248.75 1801.50H302.35M248.75 1822.42H302.35M248.75 1843.35H302.35M248.75 1864.27H302.35M248.75 1885.20H302.35M248.75 1906.12H302.35M248.75 1927.05H302.35M248.75 1947.97H302.35M248.75 1968.90H302.35" stroke="#fff" stroke-opacity="0.74" stroke-width="1.35" fill="none"/><rect x="248.55" y="1613.40" width="54.00" height="359.15" fill="none" stroke="#000" stroke-width="1.2"/>
<text transform="translate(275.05,1581.00) scale(1.115,1)" font-size="34" text-anchor="middle">c</text>
<path d="M342.75 1811.70V1791.10" stroke="#353535" stroke-width="1.4" fill="none"/>
<path d="M338.75 1791.40H346.95" stroke="#444" stroke-width="1.1" fill="none"/>
<rect x="316.25" y="1812.30" width="54.00" height="160.25" fill="url(#gc)"/><path d="M316.45 1833.00H370.05M316.45 1853.92H370.05M316.45 1874.85H370.05M316.45 1895.77H370.05M316.45 1916.70H370.05M316.45 1937.62H370.05M316.45 1958.55H370.05" stroke="#fff" stroke-opacity="0.74" stroke-width="1.35" fill="none"/><rect x="316.25" y="1812.30" width="54.00" height="160.25" fill="none" stroke="#000" stroke-width="1.2"/>
<text transform="translate(342.75,1783.50) scale(1.115,1)" font-size="34" text-anchor="middle">e</text>
<use href="#ast2" x="346.45" y="1748.90"/>
<path d="M410.45 1542.50V1522.10" stroke="#353535" stroke-width="1.4" fill="none"/>
<path d="M406.45 1522.40H414.65" stroke="#444" stroke-width="1.1" fill="none"/>
<rect x="383.95" y="1543.10" width="54.00" height="429.45" fill="url(#gb)"/><path d="M384.15 1563.80H437.75M384.15 1584.72H437.75M384.15 1605.65H437.75M384.15 1626.57H437.75M384.15 1647.50H437.75M384.15 1668.42H437.75M384.15 1689.35H437.75M384.15 1710.27H437.75M384.15 1731.20H437.75M384.15 1752.12H437.75M384.15 1773.05H437.75M384.15 1793.97H437.75M384.15 1814.90H437.75M384.15 1835.82H437.75M384.15 1856.75H437.75M384.15 1877.67H437.75M384.15 1898.60H437.75M384.15 1919.52H437.75M384.15 1940.45H437.75M384.15 1961.37H437.75" stroke="#fff" stroke-opacity="0.74" stroke-width="1.35" fill="none"/><rect x="383.95" y="1543.10" width="54.00" height="429.45" fill="none" stroke="#000" stroke-width="1.2"/>
<text transform="translate(410.45,1514.60) scale(1.115,1)" font-size="34" text-anchor="middle">b</text>
<use href="#ast2" x="409.60" y="1471.40"/>
<path d="M545.75 1788.90V1744.00" stroke="#353535" stroke-width="1.4" fill="none"/>
<path d="M541.75 1744.30H549.95" stroke="#444" stroke-width="1.1" fill="none"/>
<rect x="519.25" y="1789.50" width="54.00" height="183.05" fill="url(#gr)"/><path d="M519.45 1810.20H573.05M519.45 1831.12H573.05M519.45 1852.05H573.05M519.45 1872.97H573.05M519.45 1893.90H573.05M519.45 1914.82H573.05M519.45 1935.75H573.05M519.45 1956.67H573.05" stroke="#fff" stroke-opacity="0.74" stroke-width="1.35" fill="none"/><rect x="519.25" y="1789.50" width="54.00" height="183.05" fill="none" stroke="#000" stroke-width="1.2"/>
<text transform="translate(545.75,1736.10) scale(1.115,1)" font-size="34" text-anchor="middle">c</text>
<path d="M613.45 1536.60V1513.00" stroke="#353535" stroke-width="1.4" fill="none"/>
<path d="M609.45 1513.30H617.65" stroke="#444" stroke-width="1.1" fill="none"/>
<rect x="586.95" y="1537.20" width="54.00" height="435.35" fill="url(#gy)"/><path d="M587.15 1557.90H640.75M587.15 1578.82H640.75M587.15 1599.75H640.75M587.15 1620.67H640.75M587.15 1641.60H640.75M587.15 1662.52H640.75M587.15 1683.45H640.75M587.15 1704.37H640.75M587.15 1725.30H640.75M587.15 1746.22H640.75M587.15 1767.15H640.75M587.15 1788.07H640.75M587.15 1809.00H640.75M587.15 1829.92H640.75M587.15 1850.85H640.75M587.15 1871.77H640.75M587.15 1892.70H640.75M587.15 1913.62H640.75M587.15 1934.55H640.75M587.15 1955.47H640.75" stroke="#fff" stroke-opacity="0.74" stroke-width="1.35" fill="none"/><rect x="586.95" y="1537.20" width="54.00" height="435.35" fill="none" stroke="#000" stroke-width="1.2"/>
<text transform="translate(613.45,1504.80) scale(1.115,1)" font-size="34" text-anchor="middle">b</text>
<path d="M681.15 1753.50V1732.80" stroke="#353535" stroke-width="1.4" fill="none"/>
<path d="M677.15 1733.10H685.35" stroke="#444" stroke-width="1.1" fill="none"/>
<rect x="654.65" y="1754.10" width="54.00" height="218.45" fill="url(#gc)"/><path d="M654.85 1774.80H708.45M654.85 1795.72H708.45M654.85 1816.65H708.45M654.85 1837.57H708.45M654.85 1858.50H708.45M654.85 1879.42H708.45M654.85 1900.35H708.45M654.85 1921.27H708.45M654.85 1942.20H708.45M654.85 1963.12H708.45" stroke="#fff" stroke-opacity="0.74" stroke-width="1.35" fill="none"/><rect x="654.65" y="1754.10" width="54.00" height="218.45" fill="none" stroke="#000" stroke-width="1.2"/>
<text transform="translate(681.15,1725.20) scale(1.115,1)" font-size="34" text-anchor="middle">d</text>
<use href="#ast2" x="681.50" y="1681.40"/>
<path d="M748.85 1499.40V1487.20" stroke="#353535" stroke-width="1.4" fill="none"/>
<path d="M744.85 1487.50H753.05" stroke="#444" stroke-width="1.1" fill="none"/>
<rect x="722.35" y="1500.00" width="54.00" height="472.55" fill="url(#gb)"/><path d="M722.55 1520.70H776.15M722.55 1541.62H776.15M722.55 1562.55H776.15M722.55 1583.47H776.15M722.55 1604.40H776.15M722.55 1625.32H776.15M722.55 1646.25H776.15M722.55 1667.17H776.15M722.55 1688.10H776.15M722.55 1709.02H776.15M722.55 1729.95H776.15M722.55 1750.87H776.15M722.55 1771.80H776.15M722.55 1792.72H776.15M722.55 1813.65H776.15M722.55 1834.57H776.15M722.55 1855.50H776.15M722.55 1876.42H776.15M722.55 1897.35H776.15M722.55 1918.27H776.15M722.55 1939.20H776.15M722.55 1960.12H776.15" stroke="#fff" stroke-opacity="0.74" stroke-width="1.35" fill="none"/><rect x="722.35" y="1500.00" width="54.00" height="472.55" fill="none" stroke="#000" stroke-width="1.2"/>
<text transform="translate(748.85,1480.00) scale(1.115,1)" font-size="34" text-anchor="middle">a</text>
<use href="#ast2" x="749.10" y="1448.65"/>
<path d="M884.15 1861.00V1841.10" stroke="#353535" stroke-width="1.4" fill="none"/>
<path d="M880.15 1841.40H888.35" stroke="#444" stroke-width="1.1" fill="none"/>
<rect x="857.65" y="1861.60" width="54.00" height="110.95" fill="url(#gr)"/><path d="M857.85 1882.30H911.45M857.85 1903.22H911.45M857.85 1924.15H911.45M857.85 1945.07H911.45M857.85 1966.00H911.45" stroke="#fff" stroke-opacity="0.74" stroke-width="1.35" fill="none"/><rect x="857.65" y="1861.60" width="54.00" height="110.95" fill="none" stroke="#000" stroke-width="1.2"/>
<text transform="translate(884.15,1833.00) scale(1.115,1)" font-size="34" text-anchor="middle">f</text>
<path d="M951.85 1602.40V1567.60" stroke="#353535" stroke-width="1.4" fill="none"/>
<path d="M947.85 1567.90H956.05" stroke="#444" stroke-width="1.1" fill="none"/>
<rect x="925.35" y="1603.00" width="54.00" height="369.55" fill="url(#gy)"/><path d="M925.55 1623.70H979.15M925.55 1644.62H979.15M925.55 1665.55H979.15M925.55 1686.47H979.15M925.55 1707.40H979.15M925.55 1728.32H979.15M925.55 1749.25H979.15M925.55 1770.17H979.15M925.55 1791.10H979.15M925.55 1812.02H979.15M925.55 1832.95H979.15M925.55 1853.87H979.15M925.55 1874.80H979.15M925.55 1895.72H979.15M925.55 1916.65H979.15M925.55 1937.57H979.15M925.55 1958.50H979.15" stroke="#fff" stroke-opacity="0.74" stroke-width="1.35" fill="none"/><rect x="925.35" y="1603.00" width="54.00" height="369.55" fill="none" stroke="#000" stroke-width="1.2"/>
<text transform="translate(951.85,1559.20) scale(1.115,1)" font-size="34" text-anchor="middle">c</text>
<path d="M1019.55 1813.90V1785.70" stroke="#353535" stroke-width="1.4" fill="none"/>
<path d="M1015.55 1786.00H1023.75" stroke="#444" stroke-width="1.1" fill="none"/>
<rect x="993.05" y="1814.50" width="54.00" height="158.05" fill="url(#gc)"/><path d="M993.25 1835.20H1046.85M993.25 1856.12H1046.85M993.25 1877.05H1046.85M993.25 1897.97H1046.85M993.25 1918.90H1046.85M993.25 1939.82H1046.85M993.25 1960.75H1046.85" stroke="#fff" stroke-opacity="0.74" stroke-width="1.35" fill="none"/><rect x="993.05" y="1814.50" width="54.00" height="158.05" fill="none" stroke="#000" stroke-width="1.2"/>
<text transform="translate(1019.55,1777.30) scale(1.115,1)" font-size="34" text-anchor="middle">e</text>
<use href="#ast2" x="1019.35" y="1744.35"/>
<path d="M1087.25 1531.80V1515.50" stroke="#353535" stroke-width="1.4" fill="none"/>
<path d="M1083.25 1515.80H1091.45" stroke="#444" stroke-width="1.1" fill="none"/>
<rect x="1060.75" y="1532.40" width="54.00" height="440.15" fill="url(#gb)"/><path d="M1060.95 1553.10H1114.55M1060.95 1574.02H1114.55M1060.95 1594.95H1114.55M1060.95 1615.87H1114.55M1060.95 1636.80H1114.55M1060.95 1657.72H1114.55M1060.95 1678.65H1114.55M1060.95 1699.57H1114.55M1060.95 1720.50H1114.55M1060.95 1741.42H1114.55M1060.95 1762.35H1114.55M1060.95 1783.27H1114.55M1060.95 1804.20H1114.55M1060.95 1825.12H1114.55M1060.95 1846.05H1114.55M1060.95 1866.97H1114.55M1060.95 1887.90H1114.55M1060.95 1908.82H1114.55M1060.95 1929.75H1114.55M1060.95 1950.67H1114.55M1060.95 1971.60H1114.55" stroke="#fff" stroke-opacity="0.74" stroke-width="1.35" fill="none"/><rect x="1060.75" y="1532.40" width="54.00" height="440.15" fill="none" stroke="#000" stroke-width="1.2"/>
<text transform="translate(1087.25,1507.40) scale(1.115,1)" font-size="34" text-anchor="middle">b</text>
<use href="#ast2" x="1086.75" y="1471.40"/>
<path d="M1222.55 1795.50V1767.60" stroke="#353535" stroke-width="1.4" fill="none"/>
<path d="M1218.55 1767.90H1226.75" stroke="#444" stroke-width="1.1" fill="none"/>
<rect x="1196.05" y="1796.10" width="54.00" height="176.45" fill="url(#gr)"/><path d="M1196.25 1816.80H1249.85M1196.25 1837.72H1249.85M1196.25 1858.65H1249.85M1196.25 1879.57H1249.85M1196.25 1900.50H1249.85M1196.25 1921.42H1249.85M1196.25 1942.35H1249.85M1196.25 1963.27H1249.85" stroke="#fff" stroke-opacity="0.74" stroke-width="1.35" fill="none"/><rect x="1196.05" y="1796.10" width="54.00" height="176.45" fill="none" stroke="#000" stroke-width="1.2"/>
<text transform="translate(1222.55,1760.00) scale(1.115,1)" font-size="34" text-anchor="middle">de</text>
<path d="M1290.25 1484.70V1472.00" stroke="#353535" stroke-width="1.4" fill="none"/>
<path d="M1286.25 1472.30H1294.45" stroke="#444" stroke-width="1.1" fill="none"/>
<rect x="1263.75" y="1485.30" width="54.00" height="487.25" fill="url(#gy)"/><path d="M1263.95 1506.00H1317.55M1263.95 1526.92H1317.55M1263.95 1547.85H1317.55M1263.95 1568.77H1317.55M1263.95 1589.70H1317.55M1263.95 1610.62H1317.55M1263.95 1631.55H1317.55M1263.95 1652.47H1317.55M1263.95 1673.40H1317.55M1263.95 1694.32H1317.55M1263.95 1715.25H1317.55M1263.95 1736.17H1317.55M1263.95 1757.10H1317.55M1263.95 1778.02H1317.55M1263.95 1798.95H1317.55M1263.95 1819.87H1317.55M1263.95 1840.80H1317.55M1263.95 1861.72H1317.55M1263.95 1882.65H1317.55M1263.95 1903.57H1317.55M1263.95 1924.50H1317.55M1263.95 1945.42H1317.55M1263.95 1966.35H1317.55" stroke="#fff" stroke-opacity="0.74" stroke-width="1.35" fill="none"/><rect x="1263.75" y="1485.30" width="54.00" height="487.25" fill="none" stroke="#000" stroke-width="1.2"/>
<text transform="translate(1290.25,1464.50) scale(1.115,1)" font-size="34" text-anchor="middle">a</text>
<path d="M1357.95 1757.60V1732.60" stroke="#353535" stroke-width="1.4" fill="none"/>
<path d="M1353.95 1732.90H1362.15" stroke="#444" stroke-width="1.1" fill="none"/>
<rect x="1331.45" y="1758.20" width="54.00" height="214.35" fill="url(#gc)"/><path d="M1331.65 1778.90H1385.25M1331.65 1799.82H1385.25M1331.65 1820.75H1385.25M1331.65 1841.67H1385.25M1331.65 1862.60H1385.25M1331.65 1883.52H1385.25M1331.65 1904.45H1385.25M1331.65 1925.37H1385.25M1331.65 1946.30H1385.25M1331.65 1967.22H1385.25" stroke="#fff" stroke-opacity="0.74" stroke-width="1.35" fill="none"/><rect x="1331.45" y="1758.20" width="54.00" height="214.35" fill="none" stroke="#000" stroke-width="1.2"/>
<text transform="translate(1357.95,1725.30) scale(1.115,1)" font-size="34" text-anchor="middle">d</text>
<use href="#ast2" x="1359.50" y="1688.95"/>
<path d="M1425.65 1473.80V1457.90" stroke="#353535" stroke-width="1.4" fill="none"/>
<path d="M1421.65 1458.20H1429.85" stroke="#444" stroke-width="1.1" fill="none"/>
<rect x="1399.15" y="1474.40" width="54.00" height="498.15" fill="url(#gb)"/><path d="M1399.35 1495.10H1452.95M1399.35 1516.02H1452.95M1399.35 1536.95H1452.95M1399.35 1557.87H1452.95M1399.35 1578.80H1452.95M1399.35 1599.72H1452.95M1399.35 1620.65H1452.95M1399.35 1641.57H1452.95M1399.35 1662.50H1452.95M1399.35 1683.42H1452.95M1399.35 1704.35H1452.95M1399.35 1725.27H1452.95M1399.35 1746.20H1452.95M1399.35 1767.12H1452.95M1399.35 1788.05H1452.95M1399.35 1808.97H1452.95M1399.35 1829.90H1452.95M1399.35 1850.82H1452.95M1399.35 1871.75H1452.95M1399.35 1892.67H1452.95M1399.35 1913.60H1452.95M1399.35 1934.52H1452.95M1399.35 1955.45H1452.95" stroke="#fff" stroke-opacity="0.74" stroke-width="1.35" fill="none"/><rect x="1399.15" y="1474.40" width="54.00" height="498.15" fill="none" stroke="#000" stroke-width="1.2"/>
<text transform="translate(1425.65,1450.30) scale(1.115,1)" font-size="34" text-anchor="middle">a</text>
<use href="#ast2" x="1429.55" y="1414.40"/>
<rect x="140.20" y="1338.90" width="1353.00" height="633.65" fill="none" stroke="#000" stroke-width="2"/>
<path d="M140.20 1338.90h7.2M140.20 1497.30h7.2M140.20 1655.70h7.2M140.20 1814.10h7.2M140.20 1972.55h7.2M477.60 1972.55v-7.0M816.14 1972.55v-7.0M1154.68 1972.55v-7.0" stroke="#000" stroke-width="1.6" fill="none"/>
<text transform="translate(132.70,1350.70) scale(1.037,1)" font-size="38.3" text-anchor="end">0.8</text>
<text transform="translate(132.70,1509.03) scale(1.037,1)" font-size="38.3" text-anchor="end">0.6</text>
<text transform="translate(132.70,1667.36) scale(1.037,1)" font-size="38.3" text-anchor="end">0.4</text>
<text transform="translate(132.70,1825.69) scale(1.037,1)" font-size="38.3" text-anchor="end">0.2</text>
<text transform="translate(132.70,1984.02) scale(1.037,1)" font-size="38.3" text-anchor="end">0.0</text>
<text transform="translate(172.60,1397.00) scale(1.01,1)" font-size="41" text-anchor="start">(C)</text>
<rect x="413.9" y="27" width="130.6" height="73.6" fill="#fdc0c0"/>
<text transform="translate(420.90,81.20) scale(1.04,1)" font-size="55.6" text-anchor="start">2019</text>
<rect x="1100.1" y="26.2" width="130.8" height="73.6" fill="#fdc0c0"/>
<text transform="translate(1107.30,80.30) scale(1.04,1)" font-size="55.6" text-anchor="start">2020</text>
<rect x="523.60" y="1377.40" width="89.10" height="39.40" fill="url(#gr)"/><path d="M523.80 1398.10H612.50" stroke="#fff" stroke-opacity="0.74" stroke-width="1.35" fill="none"/><rect x="523.60" y="1377.40" width="89.10" height="39.40" fill="none" stroke="#000" stroke-width="1.2"/>
<text transform="translate(626.00,1408.60) scale(1.07,1)" font-size="38" text-anchor="start">WMC</text>
<rect x="728.80" y="1377.40" width="89.10" height="39.40" fill="url(#gy)"/><path d="M729.00 1398.10H817.70" stroke="#fff" stroke-opacity="0.74" stroke-width="1.35" fill="none"/><rect x="728.80" y="1377.40" width="89.10" height="39.40" fill="none" stroke="#000" stroke-width="1.2"/>
<text transform="translate(828.60,1408.60) scale(1.07,1)" font-size="38" text-anchor="start">MMC</text>
<rect x="931.80" y="1377.40" width="89.10" height="39.40" fill="url(#gc)"/><path d="M932.00 1398.10H1020.70" stroke="#fff" stroke-opacity="0.74" stroke-width="1.35" fill="none"/><rect x="931.80" y="1377.40" width="89.10" height="39.40" fill="none" stroke="#000" stroke-width="1.2"/>
<text transform="translate(1031.50,1408.60) scale(1.07,1)" font-size="38" text-anchor="start">IW</text>
<rect x="1086.10" y="1377.40" width="89.10" height="39.40" fill="url(#gb)"/><path d="M1086.30 1398.10H1175.00" stroke="#fff" stroke-opacity="0.74" stroke-width="1.35" fill="none"/><rect x="1086.10" y="1377.40" width="89.10" height="39.40" fill="none" stroke="#000" stroke-width="1.2"/>
<text transform="translate(1188.00,1408.60) scale(1.07,1)" font-size="38" text-anchor="start">IM</text>
<path d="M818.70 17.05V647.90" stroke="#000" stroke-width="2.2" stroke-dasharray="11 5.6 2.6 4.85" stroke-dashoffset="7.60" fill="none"/>
<path d="M816.10 677.00V1306.80" stroke="#000" stroke-width="2.2" stroke-dasharray="11 5.6 2.6 4.85" stroke-dashoffset="8.35" fill="none"/>
<path d="M816.10 1339.90V1972.55" stroke="#000" stroke-width="2.2" stroke-dasharray="11 5.6 2.6 4.85" stroke-dashoffset="11.65" fill="none"/>
<text transform="translate(269.20,2020.70) scale(1.08,1)" font-size="46" text-anchor="start">N(-)</text>
<text transform="translate(596.80,2020.70) scale(1.08,1)" font-size="46" text-anchor="start">N(+)</text>
<text transform="translate(935.10,2020.70) scale(1.08,1)" font-size="46" text-anchor="start">N(-)</text>
<text transform="translate(1273.10,2020.70) scale(1.08,1)" font-size="46" text-anchor="start">N(+)</text>
<text transform="translate(56.20,489.50) rotate(-90) scale(1,1.06)" font-size="47" textLength="316.0" lengthAdjust="spacingAndGlyphs" xml:space="preserve">WUEi (umol m<tspan font-size="31.0" dy="-18.8">-2</tspan><tspan dy="18.8" font-size="1">&#8203;</tspan>)</text>
<text transform="translate(53.20,1172.00) rotate(-90) scale(1,1.06)" font-size="55" textLength="372.0" lengthAdjust="spacingAndGlyphs" xml:space="preserve">iWUE (umol m<tspan font-size="36.3" dy="-22.0">-2</tspan><tspan dy="22.0" font-size="1">&#8203;</tspan>)</text>
<text transform="translate(63.80,2043.00) rotate(-90) scale(1,1.06)" font-size="55" textLength="774.0" lengthAdjust="spacingAndGlyphs" xml:space="preserve">C-capacity (umol m<tspan font-size="36.3" dy="-22.0">-2</tspan><tspan dy="22.0" font-size="1">&#8203;</tspan> s<tspan font-size="36.3" dy="-22.0">-1</tspan><tspan dy="22.0" font-size="1">&#8203;</tspan>/umol mol<tspan font-size="36.3" dy="-22.0">-1</tspan><tspan dy="22.0" font-size="1">&#8203;</tspan>)</text>
</svg>
</body></html>
